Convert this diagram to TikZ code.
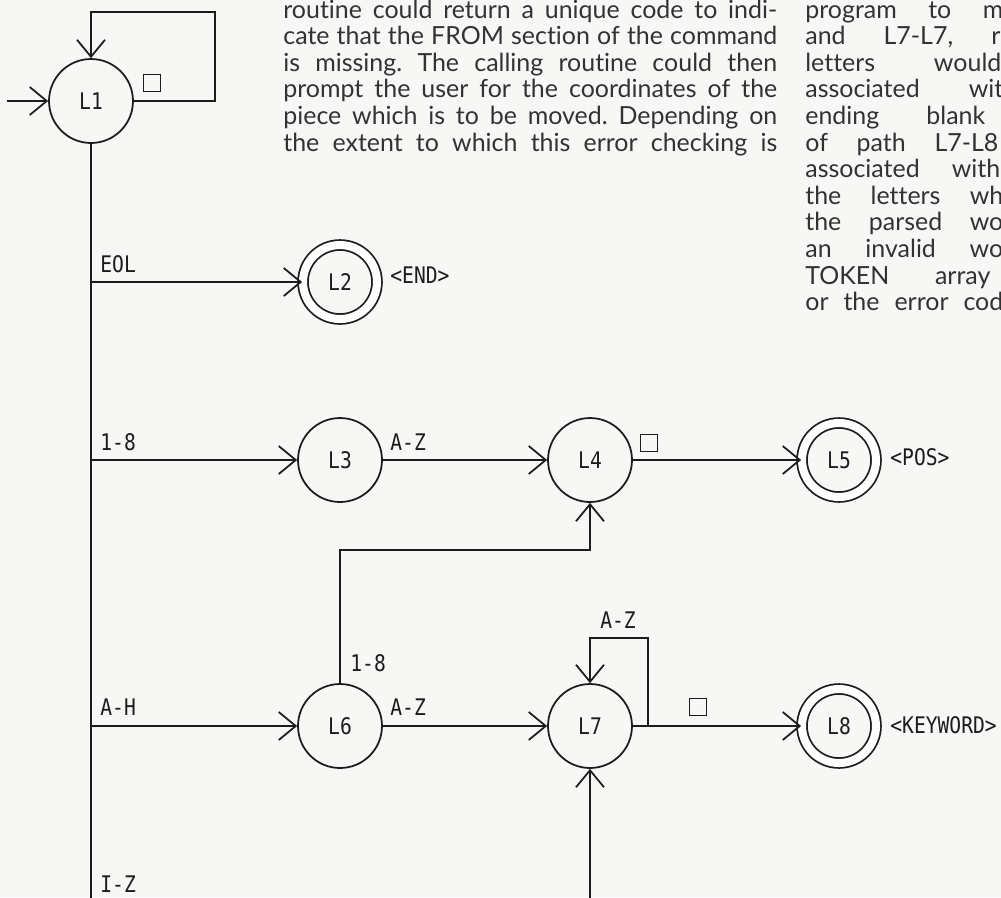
\documentclass[tikz,border=0pt]{standalone}
\usepackage{fontspec}
\newfontfamily\plotfont[FakeStretch=0.86]{DejaVu Sans Mono}
\newfontfamily\bodyfont[Ligatures=NoCommon]{Lato}
\usetikzlibrary{arrows.meta,calc}
\definecolor{paper}{RGB}{247,247,246}
\definecolor{ink}{RGB}{28,28,28}
\definecolor{print}{RGB}{50,50,50}
\tikzset{
  state/.style={draw=ink, circle, line width=1pt, minimum size=1.68cm, inner sep=0pt,
                font=\plotfont\fontsize{13}{15}\selectfont, text=ink},
  final/.style={state, double, double distance=4.6pt, minimum size=1.48cm},
  edgeline/.style={draw=ink, line width=1pt},
  edgearr/.style={edgeline, -{Straight Barb[length=0.34cm, width=0.56cm]}},
  lbl/.style={font=\plotfont\fontsize{13}{15}\selectfont, text=ink, inner sep=0pt, anchor=base west},
  blank/.style={draw=ink, line width=0.8pt, minimum size=0.34cm, inner sep=0pt},
  body/.style={font=\bodyfont\fontsize{14.2}{17}\selectfont\frenchspacing, text=print, inner sep=0pt, anchor=base west},
}

\begin{document}
\begin{tikzpicture}[x=0.02cm, y=-0.02cm]

\useasboundingbox (0,0) rectangle (1001,897);
\clip (0,0) rectangle (1001,897);
\fill[paper] (0,0) rectangle (1001,897);

% --- page text, middle column ---
\node[body] (mid1) at (283,18)    {\makebox[9.88cm][s]{routine could return a unique code to indi-}};
\node[body] (mid2) at (283,44.6)  {\makebox[9.88cm][s]{cate that the FROM section of the command}};
\node[body] (mid3) at (283,71.2)  {\makebox[9.88cm][s]{is missing. The calling routine could then}};
\node[body] (mid4) at (283,97.8)  {\makebox[9.88cm][s]{prompt the user for the coordinates of the}};
\node[body] (mid5) at (283,124.4) {\makebox[9.88cm][s]{piece which is to be moved. Depending on}};
\node[body] (mid6) at (283,151)   {\makebox[9.88cm][s]{the extent to which this error checking is}};

% --- page text, right column (cut at the edge) ---
\node[body] (rgt1)  at (805,18)    {\makebox[3.96cm][s]{program to m}};
\node[body] (rgt2)  at (805,44.6)  {\makebox[3.9cm][s]{and L7-L7, r}};
\node[body] (rgt3)  at (805,71.2)  {\makebox[3.92cm][s]{letters would}};
\node[body] (rgt4)  at (805,97.8)  {\makebox[3.96cm][s]{associated wit}};
\node[body] (rgt5)  at (805,124.4) {\makebox[3.6cm][s]{ending blank}};
\node[body] (rgt6)  at (805,151)   {\makebox[3.86cm][s]{of path L7-L8}};
\node[body] (rgt7)  at (805,177.6) {\makebox[3.9cm][s]{associated with}};
\node[body] (rgt8)  at (805,204.2) {\makebox[3.96cm][s]{the letters wh}};
\node[body] (rgt9)  at (805,230.8) {\makebox[3.96cm][s]{the parsed wo}};
\node[body] (rgt10) at (805,257.4) {\makebox[3.96cm][s]{an invalid wo}};
\node[body] (rgt11) at (805,284)   {\makebox[3.7cm][s]{TOKEN array}};
\node[body] (rgt12) at (805,310.6) {\makebox[3.96cm][s]{or the error cod}};

% --- states ---
\node[state] (l1) at (91,101)  {L1};
\node[final] (l2) at (340,282) {L2};
\node[state] (l3) at (340,460) {L3};
\node[state] (l4) at (590,460) {L4};
\node[final] (l5) at (839,460) {L5};
\node[state] (l6) at (340,726) {L6};
\node[state] (l7) at (590,726) {L7};
\node[final] (l8) at (839,726) {L8};

% --- helper points ---
\coordinate (start)   at (7,101);
\coordinate (l1loop)  at (215,12);
\coordinate (trunkend) at (91,900);
\coordinate (beol)    at (91,282);
\coordinate (b18)     at (91,460);
\coordinate (bah)     at (91,726);
\coordinate (l6turn)  at (340,550);
\coordinate (l7loop)  at (648,638);
\coordinate (l7in)    at (590,900);

% --- transitions ---
\draw[edgearr] (start) -- (l1);
\draw[edgearr] (l1.east) -| (l1loop) -| (l1.north);
\draw[edgeline] (l1.south) -- (trunkend);
\draw[edgearr] (beol) -- (l2);
\draw[edgearr] (b18) -- (l3);
\draw[edgearr] (l3) -- (l4);
\draw[edgearr] (l4) -- (l5);
\draw[edgearr] (bah) -- (l6);
\draw[edgearr] (l6) -- (l7);
\draw[edgearr] (l6.north) -- (l6turn) -| (l4.south);
\draw[edgearr] (l7) -- (l8);
\draw[edgearr] (l7loop |- l7.east) -- (l7loop) -| (l7.north);
\draw[edgearr] (l7in) -- (l7.south);

% --- transition labels ---
\node[blank] (sp1) at (152,83) {};
\node[lbl] (eol)  at (100,272) {EOL};
\node[lbl] (dig1) at (100,450) {1-8};
\node[lbl] (ah)   at (100,715) {A-H};
\node[lbl] (iz)   at (100,892) {I-Z};
\node[lbl] (az3)  at (390,450) {A-Z};
\node[blank] (sp4) at (649,443) {};
\node[lbl] (dig6) at (350,671) {1-8};
\node[lbl] (az6)  at (390,715) {A-Z};
\node[lbl, anchor=base] (az7) at (618,628) {A-Z};
\node[blank] (sp7) at (698,707) {};

% --- outputs ---
\node[lbl] (outend) at (390,283) {<END>};
\node[lbl] (outpos) at (890,465) {<POS>};
\node[lbl] (outkey) at (890,733) {<KEYWORD>};

\end{tikzpicture}
\end{document}
